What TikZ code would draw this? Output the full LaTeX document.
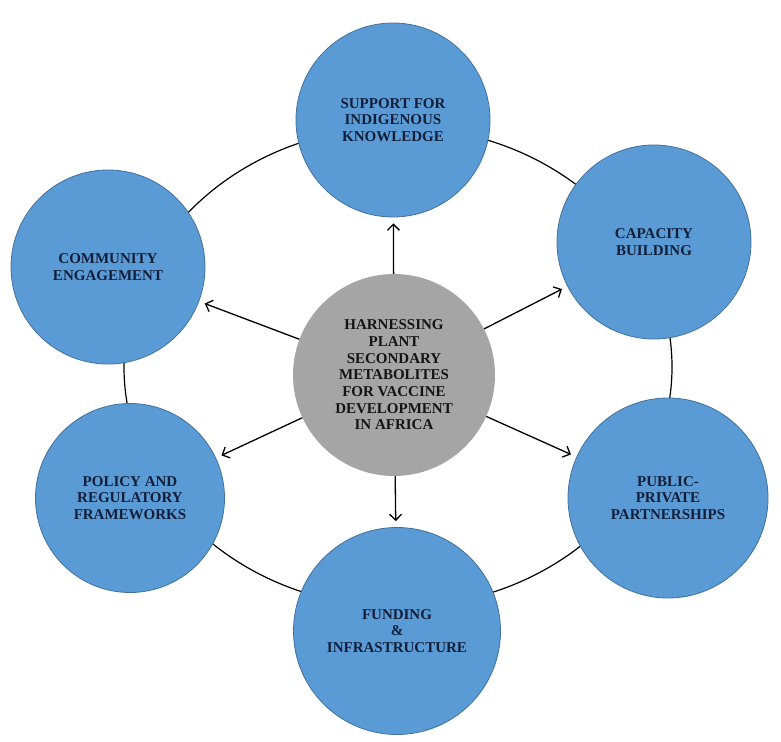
\documentclass[tikz,border=0pt]{standalone}
\usepackage{fontspec}
\setmainfont{Liberation Serif}
\usetikzlibrary{arrows.meta}
\definecolor{leaffill}{HTML}{5B9BD5}
\definecolor{leafedge}{HTML}{41719C}
\definecolor{leaftext}{HTML}{121F3A}
\definecolor{hubfill}{HTML}{A5A5A5}
\tikzset{
  leaf/.style={circle, draw=leafedge, fill=leaffill, line width=0.8pt,
    inner sep=0pt, minimum size=#1, align=center, text=leaftext,
    font=\bfseries\fontsize{15}{16.7}\selectfont},
  leaf/.default=194pt,
  hub/.style={circle, fill=hubfill, inner sep=0pt, minimum size=202pt,
    align=center, text=black!92, font=\bfseries\fontsize{15}{16.7}\selectfont},
  ring/.style={line width=1.2pt},
}
\begin{document}
\begin{tikzpicture}[x=1pt,y=-1pt]
      \useasboundingbox (0,0) rectangle (781,741);
      \draw[ring] (398,367) ellipse [x radius=274, y radius=240];
      \draw
        (393,120) node[leaf] (indigenous){SUPPORT FOR\\INDIGENOUS\\KNOWLEDGE}
        (654,242) node[leaf] (capacity){CAPACITY\\BUILDING}
        (668,498) node[leaf=200pt] (partners){PUBLIC-\\PRIVATE\\PARTNERSHIPS}
        (397,631) node[leaf=207pt] (funding){FUNDING\\\&\\INFRASTRUCTURE}
        (130,498) node[leaf=189pt] (policy){POLICY AND\\REGULATORY\\FRAMEWORKS}
        (108,267) node[leaf] (community){COMMUNITY\\ENGAGEMENT}
        (394,375) node[hub] (hub){HARNESSING\\PLANT\\SECONDARY\\METABOLITES\\FOR VACCINE\\DEVELOPMENT\\IN AFRICA};
      \begin{scope}[-{Straight Barb[length=6pt,width=12pt]}, line width=1.3pt, shorten >=6pt]
        \draw (hub) to (indigenous);
        \draw (hub) to (capacity);
        \draw (hub) to (partners);
        \draw (hub) to (funding);
        \draw (hub) to (policy);
        \draw (hub) to (community);
      \end{scope}
    \end{tikzpicture}
\end{document}
